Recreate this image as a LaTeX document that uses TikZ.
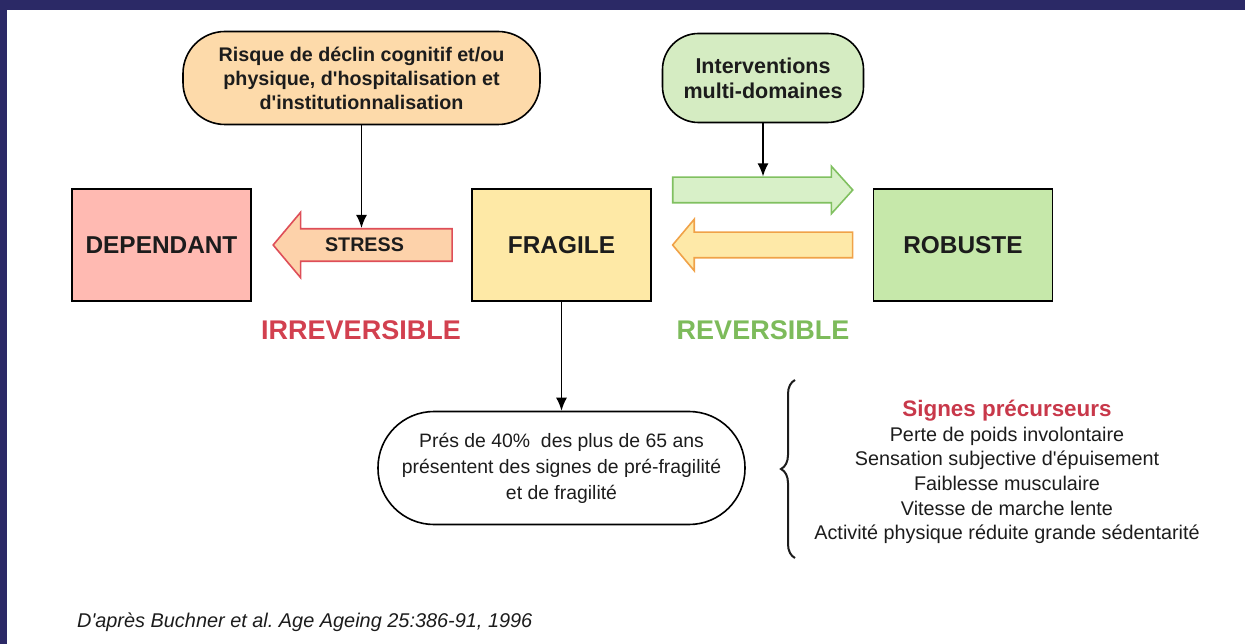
\documentclass[tikz,border=0pt]{standalone}
\usepackage{fontspec}
\setmainfont{Liberation Sans}
\usepackage{tikz}
\usetikzlibrary{positioning, arrows.meta, shapes.arrows, decorations.pathreplacing}
\definecolor{navyband}{RGB}{43,41,102}
\definecolor{inkblack}{RGB}{28,28,28}
\definecolor{depfill}{RGB}{255,186,178}
\definecolor{fragfill}{RGB}{254,233,166}
\definecolor{robfill}{RGB}{198,232,170}
\definecolor{peachfill}{RGB}{253,218,170}
\definecolor{mintfill}{RGB}{213,236,194}
\definecolor{stressdraw}{RGB}{222,78,88}
\definecolor{stressfill}{RGB}{253,210,170}
\definecolor{upgreen}{RGB}{128,192,96}
\definecolor{upgreenfill}{RGB}{216,240,200}
\definecolor{backorange}{RGB}{240,162,72}
\definecolor{backorangefill}{RGB}{254,233,168}
\definecolor{irrred}{RGB}{210,64,79}
\definecolor{revgreen}{RGB}{125,187,91}
\definecolor{signred}{RGB}{200,56,74}
\newcommand{\apos}{\textquotesingle}
\tikzstyle{state} = [rectangle, minimum width=179pt, minimum height=112pt, text centered, draw=black, line width=1.6pt, text=inkblack, font=\fontsize{24.4}{28}\selectfont\bfseries]
\tikzstyle{pill} = [rectangle, rounded corners=42pt, draw=black, line width=1.6pt, align=center, text=inkblack]
\tikzstyle{fatarrow} = [single arrow, line width=1.6pt, inner xsep=2pt, inner ysep=12pt, minimum height=180pt, single arrow head extend=11pt, single arrow tip angle=96]
\tikzstyle{arrow} = [line width=1.5pt, -{Latex[length=13pt,width=11pt]}]

\begin{document}
\begin{tikzpicture}[x=1pt, y=-1pt, node distance=400pt]
        \useasboundingbox (0,0) rectangle (1245,644);
        \fill[navyband] (0,0) rectangle (1245,10);
        \fill[navyband] (0,0) rectangle (7,644);
        % the three states
        \node (fragile) [state, fill=fragfill] at (561.5,245) {FRAGILE};
        \node (dependant) [state, left of=fragile, fill=depfill] {DEPENDANT};
        \node (robuste) [state, right of=fragile, xshift=1.5pt, fill=robfill] {ROBUSTE};
        % block arrows between them
        \node (stress) [fatarrow, node distance=200pt, left of=fragile, xshift=8pt, shape border rotate=180, minimum height=179pt, inner ysep=8.5pt, single arrow head extend=16.5pt, single arrow tip angle=100, draw=stressdraw, fill=stressfill, text=inkblack, font=\fontsize{19.7}{22}\selectfont\bfseries] {STRESS\kern10pt};
        \node (improve) [fatarrow, node distance=200pt, right of=fragile, xshift=-4.5pt, yshift=55pt, draw=upgreen, fill=upgreenfill] {};
        \node (decline) [fatarrow, node distance=200pt, right of=fragile, xshift=6.5pt, shape border rotate=180, single arrow head extend=13pt, single arrow tip angle=100, draw=backorange, fill=backorangefill] {};
        % causes on top
        \node (risque) [pill, node distance=167pt, above of=stress, xshift=-8pt, minimum width=357pt, minimum height=93pt, font=\fontsize{19.7}{24}\selectfont\bfseries, fill=peachfill] {Risque de déclin cognitif et/ou\\physique, d\apos hospitalisation et\\d\apos institutionnalisation};
        \node (interv) [pill, node distance=112pt, above of=improve, xshift=6pt, rounded corners=36pt, minimum width=201pt, minimum height=89pt, font=\fontsize{21.5}{25}\selectfont\bfseries, fill=mintfill] {Interventions\\multi-domaines};
        \draw [arrow] (risque.south) -- (risque.south |- stress.north);
        \draw [arrow] (interv.south) -- (interv.south |- improve.north);
        % labels under the arrows
        \node (irrev) [node distance=85pt, below of=stress, xshift=-8.5pt, text=irrred, font=\fontsize{27}{30}\selectfont\bfseries] {IRREVERSIBLE};
        \node (rev) [node distance=85pt, below of=decline, xshift=-5pt, text=revgreen, font=\fontsize{27}{30}\selectfont\bfseries] {REVERSIBLE};
        % prevalence
        \node (preval) [pill, node distance=223pt, below of=fragile, rounded corners=56pt, minimum width=367pt, minimum height=113pt, font=\fontsize{19.4}{26}\selectfont] {Prés de 40\%~ des plus de 65 ans\\présentent des signes de pré-fragilité\\et de fragilité};
        \draw [arrow] (fragile.south) -- (preval.north);
        % early signs
        \node (signes) [align=center, text=inkblack, font=\fontsize{19.8}{24.6}\selectfont] at (1007,472) {{\color{signred}\fontsize{22.4}{24.6}\selectfont\bfseries Signes précurseurs}\\Perte de poids involontaire\\Sensation subjective d\apos épuisement\\Faiblesse musculaire\\Vitesse de marche lente\\Activité physique réduite grande sédentarité};
        \draw [decorate, decoration={brace, amplitude=14pt}, line width=2pt, inkblack] (795,558) -- (795,380);
        \node (source) [anchor=west, inner sep=0pt, text=inkblack, font=\fontsize{19.9}{22}\selectfont\itshape] at (77,622) {D\apos après Buchner et al.\ Age Ageing 25:386-91, 1996};
\end{tikzpicture}
\end{document}
